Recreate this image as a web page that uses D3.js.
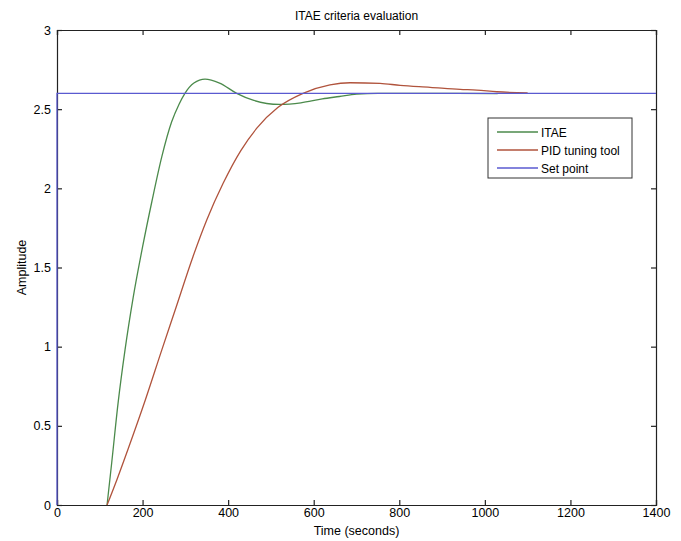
<!DOCTYPE html>
<html>
<head>
<meta charset="utf-8">
<script src="https://cdn.jsdelivr.net/npm/d3@7"></script>
<style>
  body { margin: 0; background: #fff; }
  svg text { font-family: "Liberation Sans", Arial, sans-serif; fill: #000; }
</style>
</head>
<body>
<script>
// datos (tiempo en s, amplitud)
var itaeT = [117, 128, 143, 159, 178, 200, 222, 245, 268, 285, 299, 320, 346, 380, 420, 460, 520, 570, 620, 660, 700, 750, 900, 1030];
var itaeY = [0, 0.27, 0.65, 0.98, 1.31, 1.63, 1.92, 2.2, 2.42, 2.53, 2.6, 2.665, 2.69, 2.665, 2.6, 2.555, 2.53, 2.54, 2.565, 2.58, 2.595, 2.6, 2.6, 2.598];
var pidT = [117, 140, 167, 206, 245, 276, 318, 350, 388, 430, 467, 516, 575, 638, 685, 755, 802, 872, 942, 981, 1028, 1100];
var pidY = [0, 0.16, 0.36, 0.66, 0.98, 1.23, 1.57, 1.8, 2.03, 2.24, 2.38, 2.51, 2.6, 2.653, 2.667, 2.663, 2.65, 2.638, 2.625, 2.62, 2.61, 2.603];
var setT = [0, 0, 1400];
var setY = [0, 2.6, 2.6];
var xTicks = [0, 200, 400, 600, 800, 1000, 1200, 1400];
var yTicks = [0, 0.5, 1, 1.5, 2, 2.5, 3];
var series = ["ITAE", "PID tuning tool", "Set point"];

var W = 681, H = 541;
var margin = { left: 57, right: 25, top: 30, bottom: 36 };
var w = W - margin.left - margin.right;
var h = H - margin.top - margin.bottom;

var color = {
  "ITAE": "#4b8a4b",
  "PID tuning tool": "#b0533c",
  "Set point": "#5a5ad0"
};

var svg = d3.select("body").append("svg").attr("width", W).attr("height", H);
var g = svg.append("g").attr("transform", "translate(" + margin.left + "," + margin.top + ")");

var x = d3.scaleLinear().domain([0, 1400]).range([0, w]);
var y = d3.scaleLinear().domain([0, 3]).range([h, 0]);

// ejes estilo matlab, ticks hacia adentro
g.append("g").attr("transform", "translate(0," + h + ")")
  .call(d3.axisBottom(x).tickValues(xTicks).tickSize(-5).tickPadding(3).tickFormat(d3.format("d")));
g.append("g")
  .call(d3.axisTop(x).tickValues(xTicks).tickSize(-5).tickFormat(""));
g.append("g")
  .call(d3.axisLeft(y).tickValues(yTicks).tickSize(-5).tickPadding(6).tickFormat(function (d) { return d; }));
g.append("g").attr("transform", "translate(" + w + ",0)")
  .call(d3.axisRight(y).tickValues(yTicks).tickSize(-5).tickFormat(""));

g.selectAll(".domain").attr("stroke", "#222").attr("stroke-width", 1.2);
g.selectAll(".tick line").attr("stroke", "#222").attr("stroke-width", 1.2);
g.selectAll(".tick text").style("font-size", "12.5px");

var line = d3.line().x(function (d) { return x(d[0]); }).y(function (d) { return y(d[1]); });

function pares(ts, ys) {
  return ts.map(function (t, i) { return [t, ys[i]]; });
}

g.append("path").datum(pares(itaeT, itaeY))
  .attr("fill", "none").attr("stroke", color["ITAE"]).attr("stroke-width", 1.3)
  .attr("d", line.curve(d3.curveMonotoneX));
g.append("path").datum(pares(pidT, pidY))
  .attr("fill", "none").attr("stroke", color["PID tuning tool"]).attr("stroke-width", 1.3)
  .attr("d", line.curve(d3.curveMonotoneX));
g.append("path").datum(pares(setT, setY))
  .attr("fill", "none").attr("stroke", color["Set point"]).attr("stroke-width", 1.3)
  .attr("d", line.curve(d3.curveLinear));

// titulo y etiquetas
svg.append("text").attr("x", margin.left + w / 2).attr("y", 20).attr("text-anchor", "middle")
  .style("font-size", "12px").text("ITAE criteria evaluation");
svg.append("text").attr("x", margin.left + w / 2).attr("y", 535).attr("text-anchor", "middle")
  .style("font-size", "12.5px").text("Time (seconds)");
svg.append("text").attr("transform", "translate(26," + (margin.top + h / 2) + ") rotate(-90)")
  .attr("text-anchor", "middle").style("font-size", "12.5px").text("Amplitude");

// leyenda
var legend = svg.append("g").attr("transform", "translate(488,118)");
legend.append("rect").attr("width", 144).attr("height", 60)
  .attr("fill", "#fff").attr("stroke", "#333").attr("stroke-width", 1);
legend.selectAll("line").data(series).enter().append("line")
  .attr("x1", 9).attr("x2", 50)
  .attr("y1", function (d, i) { return 14 + i * 18; })
  .attr("y2", function (d, i) { return 14 + i * 18; })
  .attr("stroke", function (d) { return color[d]; }).attr("stroke-width", 1.3);
legend.selectAll("text").data(series).enter().append("text")
  .attr("x", 53).attr("y", function (d, i) { return 18.5 + i * 18; })
  .style("font-size", "12px").text(function (d) { return d; });
</script>
</body>
</html>
